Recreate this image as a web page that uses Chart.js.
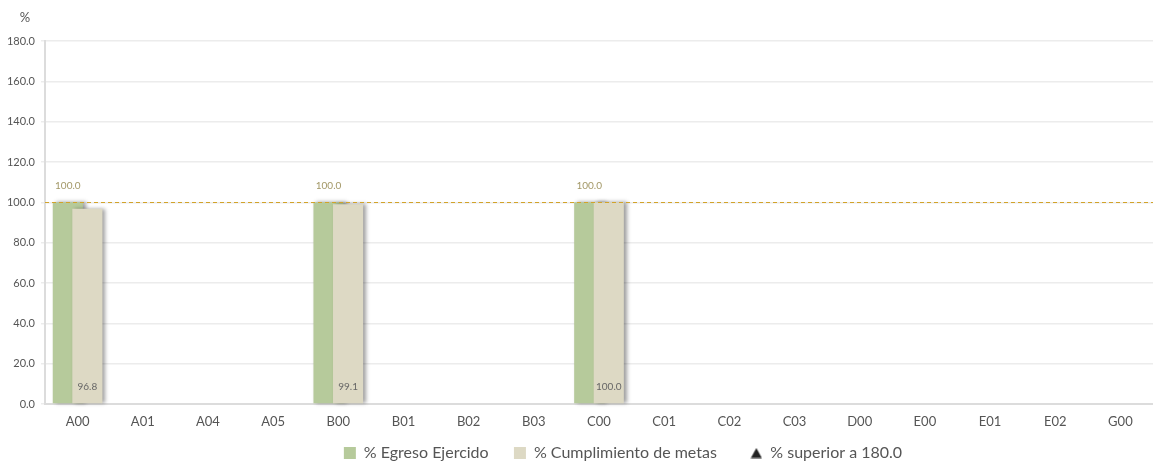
<!DOCTYPE html>
<html>
<head>
<meta charset="utf-8">
<script src="https://cdn.jsdelivr.net/npm/chart.js@4.4.0/dist/chart.umd.min.js"></script>
<style>
  html, body { margin: 0; padding: 0; background: #fff; overflow: hidden; }
  #wrap { width: 1153px; height: 461px; }
  canvas { display: block; }
</style>
</head>
<body>
<div id="wrap"><canvas id="chart" width="1153" height="461"></canvas></div>
<script>
// datos
const categorias = ['A00','A01','A04','A05','B00','B01','B02','B03','C00','C01','C02','C03','D00','E00','E01','E02','G00'];
const egresoEjercido = [100.0, null, null, null, 100.0, null, null, null, 100.0, null, null, null, null, null, null, null, null];
const cumplimientoMetas = [96.8, null, null, null, 99.1, null, null, null, 100.0, null, null, null, null, null, null, null, null];
const superior180 = [null, null, null, null, null, null, null, null, null, null, null, null, null, null, null, null, null];
const yTicks = [0, 20, 40, 60, 80, 100, 120, 140, 160, 180];
const meta = 100;
const tope = 180;

const FONT = 'Lato';
const LEG_PAD = 13;
const LEG_SHIFT = 45;

// triangulo pequeño para la leyenda
const tri = document.createElement('canvas');
tri.width = 12; tri.height = 11;
(() => {
  const c = tri.getContext('2d');
  c.fillStyle = '#222';
  c.beginPath();
  c.moveTo(6, 0.5); c.lineTo(11.5, 10.5); c.lineTo(0.5, 10.5);
  c.closePath();
  c.fill();
})();

// dibuja barras en orden de indice (beige encima del verde) con sombra
const barrasConSombra = {
  id: 'barrasConSombra',
  beforeDatasetsDraw(chart) {
    const ctx = chart.ctx;
    [0, 1, 2].forEach(i => {
      const m = chart.getDatasetMeta(i);
      if (!m.visible) return;
      ctx.save();
      if (m.type === 'bar') {
        ctx.shadowColor = 'rgba(0,0,0,0.38)';
        ctx.shadowBlur = 4;
        ctx.shadowOffsetX = 3;
        ctx.shadowOffsetY = 0;
      }
      m.controller.draw();
      ctx.restore();
    });
    return false;
  }
};

const moverLeyenda = {
  id: 'moverLeyenda',
  afterLayout(chart) {
    chart.legend.left += LEG_SHIFT;
    chart.legend.right += LEG_SHIFT;
  }
};

const etiquetas = {
  id: 'etiquetas',
  afterDraw(chart) {
    const ctx = chart.ctx;
    const y = chart.scales.y;
    ctx.save();
    // linea de meta
    const py = Math.round(y.getPixelForValue(meta)) + 0.5;
    ctx.strokeStyle = '#d2a32a';
    ctx.lineWidth = 1;
    ctx.setLineDash([4, 3]);
    ctx.beginPath();
    ctx.moveTo(chart.chartArea.left, py);
    ctx.lineTo(chart.chartArea.right, py);
    ctx.stroke();
    ctx.setLineDash([]);

    ctx.font = '10px ' + FONT;
    ctx.textAlign = 'center';
    ctx.textBaseline = 'middle';
    chart.getDatasetMeta(0).data.forEach((bar, i) => {
      const v = egresoEjercido[i];
      if (v == null) return;
      ctx.fillStyle = '#a39867';
      ctx.fillText(v.toFixed(1), bar.x, bar.y - 17);
    });
    chart.getDatasetMeta(1).data.forEach((bar, i) => {
      const v = cumplimientoMetas[i];
      if (v == null) return;
      ctx.fillStyle = '#666';
      ctx.fillText(v.toFixed(1), bar.x, y.getPixelForValue(0) - 17);
    });

    ctx.font = '13px ' + FONT;
    ctx.fillStyle = '#555';
    ctx.fillText('%', 25, 18);
    ctx.restore();
  }
};

new Chart(document.getElementById('chart'), {
  type: 'bar',
  data: {
    labels: categorias,
    datasets: [
      { label: '% Egreso Ejercido', data: egresoEjercido, backgroundColor: '#b6ca9b', borderWidth: 0, pointStyle: 'rect' },
      { label: '% Cumplimiento de metas', data: cumplimientoMetas, backgroundColor: '#ddd9c4', borderWidth: 0, pointStyle: 'rect' },
      { type: 'line', label: '% superior a ' + tope.toFixed(1), data: superior180, showLine: false,
        pointStyle: tri, backgroundColor: '#222', borderColor: '#222', pointRadius: 0 }
    ]
  },
  options: {
    responsive: false,
    animation: false,
    categoryPercentage: 0.6,
    barPercentage: 1.54,
    layout: { autoPadding: false, padding: { top: 41, right: -3, left: 0, bottom: -10 } },
    plugins: {
      legend: {
        position: 'bottom',
        labels: {
          usePointStyle: true,
          boxWidth: 12,
          boxHeight: 12,
          padding: LEG_PAD,
          color: '#555',
          font: { family: FONT, size: 16 },
          generateLabels(chart) {
            const items = Chart.defaults.plugins.legend.labels.generateLabels(chart);
            const extra = ['   ', '     ', ''];
            items.forEach((it, i) => { it.text = it.text + extra[i]; });
            return items;
          }
        }
      },
      tooltip: { enabled: false }
    },
    scales: {
      x: {
        afterFit(s) { s.height = 41 - LEG_PAD; s.paddingLeft = 0; s.paddingRight = 0; },
        grid: { display: false, drawTicks: false },
        border: { color: '#dcdcdc', width: 2 },
        ticks: { color: '#555', font: { family: FONT, size: 13 }, padding: 10 }
      },
      y: {
        min: 0,
        max: tope,
        afterFit(s) { s.width = 45; },
        afterBuildTicks(s) { s.ticks = yTicks.map(v => ({ value: v })); },
        grid: { color: '#ececec', lineWidth: 1.5, tickLength: 4 },
        border: { color: '#dcdcdc', width: 2 },
        ticks: { color: '#555', font: { family: FONT, size: 11 }, padding: 6,
          callback: v => Number(v).toFixed(1) }
      }
    }
  },
  plugins: [barrasConSombra, moverLeyenda, etiquetas]
});
</script>
</body>
</html>
